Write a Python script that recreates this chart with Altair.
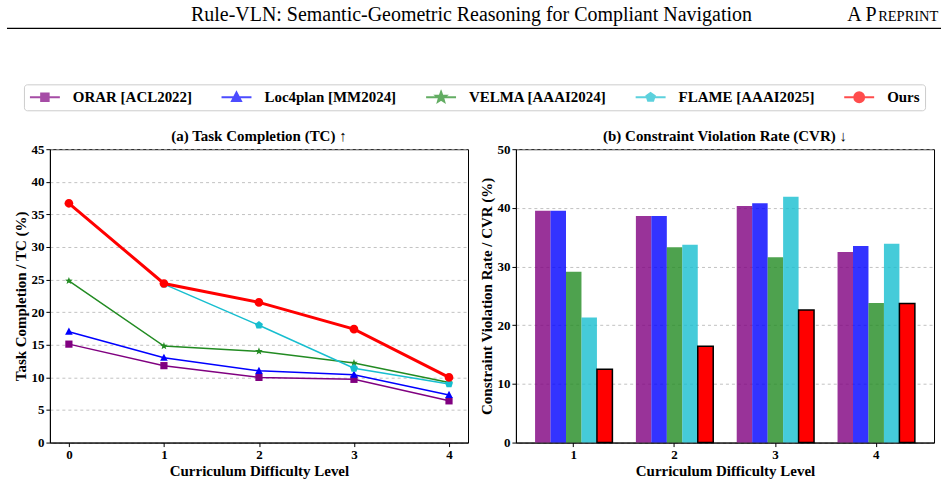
import math
import altair as alt
import pandas as pd

SERIF = "Liberation Serif"

# Methods compared, in legend order, with their line colours
methods = ["ORAR [ACL2022]", "Loc4plan [MM2024]", "VELMA [AAAI2024]", "FLAME [AAAI2025]", "Ours"]
line_colors = ["#800080", "#0000ff", "#228b22", "#17becf", "#ff0000"]

# (a) Task Completion (%) per curriculum level
tc_levels = [0, 1, 2, 3, 4]
tc_orar = [15.1, 11.8, 10.0, 9.7, 6.4]
tc_loc4plan = [17.0, 13.0, 11.0, 10.4, 7.3]
tc_velma = [24.8, 14.8, 14.0, 12.2, 9.2]
tc_flame = [None, 24.3, 18.0, 11.4, 9.0]
tc_ours = [36.7, 24.4, 21.5, 17.4, 10.0]

# (b) Constraint Violation Rate (%) per curriculum level
cvr_levels = [1, 2, 3, 4]
cvr_orar = [39.5, 38.6, 40.3, 32.5]
cvr_loc4plan = [39.5, 38.6, 40.8, 33.5]
cvr_velma = [29.1, 33.3, 31.6, 23.8]
cvr_flame = [21.3, 33.7, 41.9, 33.9]
cvr_ours = [12.5, 16.4, 22.6, 23.7]


def long_table(levels, series_values):
    rows = []
    for name, values in zip(methods, series_values):
        for lvl, v in zip(levels, values):
            if v is not None:
                rows.append({"level": lvl, "value": v, "series": name})
    return pd.DataFrame(rows)


tc_df = long_table(tc_levels, [tc_orar, tc_loc4plan, tc_velma, tc_flame, tc_ours])
cvr_df = long_table(cvr_levels, [cvr_orar, cvr_loc4plan, cvr_velma, cvr_flame, cvr_ours])


# ---- marker shapes (unit-radius SVG paths) ----
def closed(points, k=1.0):
    return "M" + "L".join(f"{x * k:.3f},{y * k:.3f}" for x, y in points) + "Z"


def circle(k=1.0):
    return (f"M{-k:.3f},0A{k:.3f},{k:.3f} 0 1,0 {k:.3f},0"
            f"A{k:.3f},{k:.3f} 0 1,0 {-k:.3f},0Z")


square_pts = [(-1, -1), (1, -1), (1, 1), (-1, 1)]
triangle_pts = [(0, -1.1), (1, 0.8), (-1, 0.8)]
star_pts = [((1.0 if i % 2 == 0 else 0.42) * math.cos(math.radians(-90 + 36 * i)),
             (1.0 if i % 2 == 0 else 0.42) * math.sin(math.radians(-90 + 36 * i))) for i in range(10)]
pentagon_pts = [(math.cos(math.radians(-90 + 72 * i)), math.sin(math.radians(-90 + 72 * i))) for i in range(5)]

marker_paths = [closed(square_pts), closed(triangle_pts), closed(star_pts), closed(pentagon_pts), circle()]
marker_sizes = [52, 76, 95, 68, 120]

# legend glyphs: a short line segment with the marker in its middle
seg = "M-1,0H1"
legend_paths = [seg + closed(square_pts, 0.25), seg + closed(triangle_pts, 0.3),
                seg + closed(star_pts, 0.36), seg + closed(pentagon_pts, 0.29), seg + circle(0.33)]

blank = alt.Data(values=[{}])

# Panel (a) plot area sits at (49, 148) on the page; the page header and the
# shared legend are drawn in that panel's coordinates, above its plot area.
OX, OY = 49, 148
PW, PH = 419, 294

legend = alt.Legend(
    title=None, orient="none", legendX=23 - OX, legendY=83 - OY, direction="horizontal", columns=5,
    symbolSize=900, symbolStrokeWidth=2, clipHeight=16, labelOffset=12, columnPadding=28,
    labelFont=SERIF, labelFontSize=15, labelFontWeight="bold", labelColor="black", labelLimit=400,
    padding=5, strokeColor="#cccccc", cornerRadius=3, fillColor="white",
)

page = alt.Chart(blank).mark_rect(opacity=0).encode(
    x=alt.value(-OX), x2=alt.value(948 - OX), y=alt.value(-OY), y2=alt.value(484 - OY))
head_rule = alt.Chart(blank).mark_rule(color="black", strokeWidth=1.3).encode(
    x=alt.value(6 - OX), x2=alt.value(942 - OX), y=alt.value(27 - OY))
head_title = alt.Chart(blank).mark_text(
    text="Rule-VLN: Semantic-Geometric Reasoning for Compliant Navigation",
    font=SERIF, fontSize=20, align="center", baseline="alphabetic", color="black",
).encode(x=alt.value(471.5 - OX), y=alt.value(20 - OY))
head_a = alt.Chart(blank).mark_text(
    text="A P", font=SERIF, fontSize=20, align="left", baseline="alphabetic", color="black",
).encode(x=alt.value(848 - OX), y=alt.value(20 - OY))
head_b = alt.Chart(blank).mark_text(
    text="REPRINT", font=SERIF, fontSize=14.5, align="left", baseline="alphabetic", color="black",
).encode(x=alt.value(879 - OX), y=alt.value(20 - OY))
legend_holder = alt.Chart(alt.Data(values=[])).mark_point(filled=True).encode(
    color=alt.Color("series:N", scale=alt.Scale(domain=methods, range=line_colors), legend=legend),
    stroke=alt.Stroke("series:N", scale=alt.Scale(domain=methods, range=line_colors), legend=legend),
    shape=alt.Shape("series:N", scale=alt.Scale(domain=methods, range=legend_paths), legend=legend),
)


def panel_title(text):
    return alt.Chart(blank).mark_text(
        text=text, font=SERIF, fontSize=15, fontWeight="bold", color="black",
        align="center", baseline="alphabetic",
    ).encode(x=alt.value(PW / 2), y=alt.value(-8))


grid_style = dict(grid=True, gridDash=[3, 3], gridColor="#b3b3b3", gridWidth=0.8)

# ---- (a) Task Completion line chart ----
tc_x = alt.X("level:Q", scale=alt.Scale(domain=[-0.2, 4.2], nice=False, zero=False),
             axis=alt.Axis(values=tc_levels, format="d", title="Curriculum Difficulty Level", grid=False))
tc_y = alt.Y("value:Q", scale=alt.Scale(domain=[0, 45], nice=False),
             axis=alt.Axis(values=list(range(0, 46, 5)), title="Task Completion / TC (%)", **grid_style))


def color_enc():
    return alt.Color("series:N", scale=alt.Scale(domain=methods, range=line_colors), legend=None)


def pt_enc():
    return dict(
        color=color_enc(),
        shape=alt.Shape("series:N", scale=alt.Scale(domain=methods, range=marker_paths), legend=None),
        size=alt.Size("series:N", scale=alt.Scale(domain=methods, range=marker_sizes), legend=None),
    )


tc_base = alt.Chart(tc_df)
others = alt.datum.series != "Ours"
ours = alt.datum.series == "Ours"
tc_lines_o = tc_base.transform_filter(others).mark_line(strokeWidth=1.5).encode(
    x=tc_x, y=tc_y, color=color_enc())
tc_pts_o = tc_base.transform_filter(others).mark_point(filled=True, opacity=1).encode(
    x=tc_x, y=tc_y, **pt_enc())
tc_line_u = tc_base.transform_filter(ours).mark_line(strokeWidth=3).encode(
    x=tc_x, y=tc_y, color=color_enc())
tc_pts_u = tc_base.transform_filter(ours).mark_point(filled=True, opacity=1).encode(
    x=tc_x, y=tc_y, **pt_enc())

indep = dict(color="independent", shape="independent", size="independent",
             stroke="independent", strokeWidth="independent")

left = alt.layer(
    page, head_rule, head_title, head_a, head_b, legend_holder,
    tc_lines_o, tc_pts_o, tc_line_u, tc_pts_u,
    panel_title("(a) Task Completion (TC) \u2191"),
).resolve_scale(**indep).properties(
    width=PW, height=PH, view=alt.ViewBackground(stroke="black", strokeWidth=1))

# ---- (b) Constraint Violation Rate grouped bars ----
bars = alt.Chart(cvr_df).mark_bar().encode(
    x=alt.X("level:O", scale=alt.Scale(paddingInner=0.233, paddingOuter=0.19),
            axis=alt.Axis(labelAngle=0, title="Curriculum Difficulty Level", grid=False)),
    xOffset=alt.XOffset("series:N", scale=alt.Scale(domain=methods, paddingInner=0, paddingOuter=0)),
    y=alt.Y("value:Q", scale=alt.Scale(domain=[0, 50], nice=False),
            axis=alt.Axis(values=list(range(0, 51, 10)), title="Constraint Violation Rate / CVR (%)",
                          **grid_style)),
    color=color_enc(),
    opacity=alt.condition(ours, alt.value(1.0), alt.value(0.8)),
    stroke=alt.condition(ours, alt.value("black"), alt.value("transparent")),
    strokeWidth=alt.condition(ours, alt.value(1.5), alt.value(0)),
)
right = alt.layer(
    bars, panel_title("(b) Constraint Violation Rate (CVR) \u2193"),
).properties(width=PW, height=PH, view=alt.ViewBackground(stroke="black", strokeWidth=1))

chart = alt.hconcat(left, right, spacing=48, bounds="flush").resolve_scale(
    x="independent", y="independent", **indep
).properties(
    padding=0
).configure_axis(
    labelFont=SERIF, labelFontSize=13, labelFontWeight="bold", labelColor="black",
    titleFont=SERIF, titleFontSize=15, titleFontWeight="bold", titleColor="black",
    domainColor="black", domainWidth=1, tickColor="black", tickSize=4, tickWidth=1,
    labelPadding=2, titlePadding=2,
)

chart.save("out.html", embed_options={"renderer": "svg", "actions": False})
